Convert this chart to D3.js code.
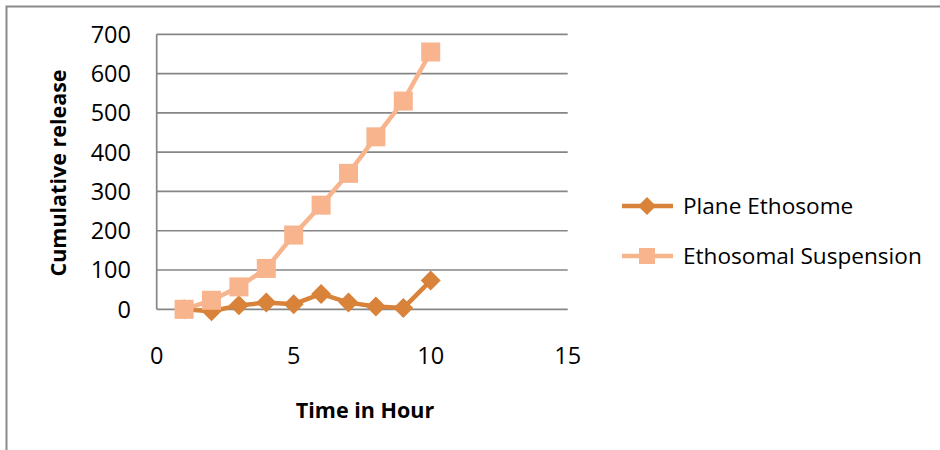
<!DOCTYPE html>
<html>
<head>
<meta charset="utf-8">
<script src="https://cdn.jsdelivr.net/npm/d3@7/dist/d3.min.js"></script>
<style>
  html, body { margin: 0; padding: 0; background: #fff; }
  svg { display: block; }
  text { font-family: "Open Sans", "Liberation Sans", sans-serif; fill: #000; }
</style>
</head>
<body>
<svg id="chart" width="940" height="450"></svg>
<script>
// ---- data ----
const hours = [1, 2, 3, 4, 5, 6, 7, 8, 9, 10];
const planeEthosome = [0, -5, 10, 17, 13, 39, 17, 7, 3, 73];
const ethosomalSuspension = [0, 23, 57, 104, 189, 265, 346, 439, 530, 655];
const seriesNames = ["Plane Ethosome", "Ethosomal Suspension"];
const xTicks = [0, 5, 10, 15];
const yTicks = [0, 100, 200, 300, 400, 500, 600, 700];
const xTitle = "Time in Hour";
const yTitle = "Cumulative release";

const colors = ["#D8823A", "#F7B48D"];

const svg = d3.select("#chart");

// outer chart border (extends beyond the window on right/bottom)
svg.append("rect")
  .attr("x", 6.5).attr("y", 6.5)
  .attr("width", 1000).attr("height", 1000)
  .attr("fill", "none").attr("stroke", "#8a8a8a").attr("stroke-width", 2);

const x = d3.scaleLinear().domain([0, 15]).range([156.7, 567.7]);
const y = d3.scaleLinear().domain([0, 700]).range([309.3, 34.3]);

// gridlines
svg.append("g").selectAll("line").data(yTicks).join("line")
  .attr("x1", x(0)).attr("x2", x(15))
  .attr("y1", d => y(d)).attr("y2", d => y(d))
  .attr("stroke", "#868686").attr("stroke-width", 1.7);

// y axis line
svg.append("line")
  .attr("x1", x(0)).attr("x2", x(0))
  .attr("y1", y(0)).attr("y2", y(700))
  .attr("stroke", "#868686").attr("stroke-width", 1.7);

// y tick labels
svg.append("g").selectAll("text").data(yTicks).join("text")
  .attr("x", 131).attr("y", d => y(d))
  .attr("dy", "0.36em")
  .attr("text-anchor", "end")
  .attr("font-size", 23.5)
  .text(d => d);

// x tick labels
svg.append("g").selectAll("text").data(xTicks).join("text")
  .attr("x", d => x(d)).attr("y", 356)
  .attr("dy", "0.36em")
  .attr("text-anchor", "middle")
  .attr("font-size", 23.5)
  .text(d => d);

// axis titles
svg.append("text")
  .attr("x", 365).attr("y", 410).attr("dy", "0.36em")
  .attr("text-anchor", "middle")
  .attr("font-size", 21.5).attr("font-weight", "bold")
  .text(xTitle);

svg.append("text")
  .attr("transform", "translate(58,173) rotate(-90)")
  .attr("dy", "0.36em")
  .attr("text-anchor", "middle")
  .attr("font-size", 21.5).attr("font-weight", "bold")
  .text(yTitle);

const line = d3.line().x(d => x(d[0])).y(d => y(d[1]));
const diamond = s => `M0,${-s}L${s},0L0,${s}L${-s},0Z`;

// Plane Ethosome
const s1 = hours.map((h, i) => [h, planeEthosome[i]]);
svg.append("path").datum(s1).attr("d", line)
  .attr("fill", "none").attr("stroke", colors[0]).attr("stroke-width", 4.5)
  .attr("stroke-linejoin", "round");
svg.append("g").selectAll("path").data(s1).join("path")
  .attr("transform", d => `translate(${x(d[0])},${y(d[1])})`)
  .attr("d", diamond(10)).attr("fill", colors[0]);

// Ethosomal Suspension
const s2 = hours.map((h, i) => [h, ethosomalSuspension[i]]);
svg.append("path").datum(s2).attr("d", line)
  .attr("fill", "none").attr("stroke", colors[1]).attr("stroke-width", 4.5)
  .attr("stroke-linejoin", "round");
svg.append("g").selectAll("rect").data(s2).join("rect")
  .attr("x", d => x(d[0]) - 9.5).attr("y", d => y(d[1]) - 9.5)
  .attr("width", 19).attr("height", 19).attr("fill", colors[1]);

// legend
const legY = [206, 256];
const lg = svg.append("g");
seriesNames.forEach((name, i) => {
  lg.append("line").attr("x1", 622).attr("x2", 673)
    .attr("y1", legY[i]).attr("y2", legY[i])
    .attr("stroke", colors[i]).attr("stroke-width", 4.5);
  if (i === 0) {
    lg.append("path").attr("transform", `translate(647,${legY[i]})`)
      .attr("d", diamond(9)).attr("fill", colors[i]);
  } else {
    lg.append("rect").attr("x", 647 - 8).attr("y", legY[i] - 8)
      .attr("width", 16).attr("height", 16).attr("fill", colors[i]);
  }
  lg.append("text").attr("x", 683).attr("y", legY[i]).attr("dy", "0.36em")
    .attr("font-size", 22.6).text(name);
});
</script>
</body>
</html>
